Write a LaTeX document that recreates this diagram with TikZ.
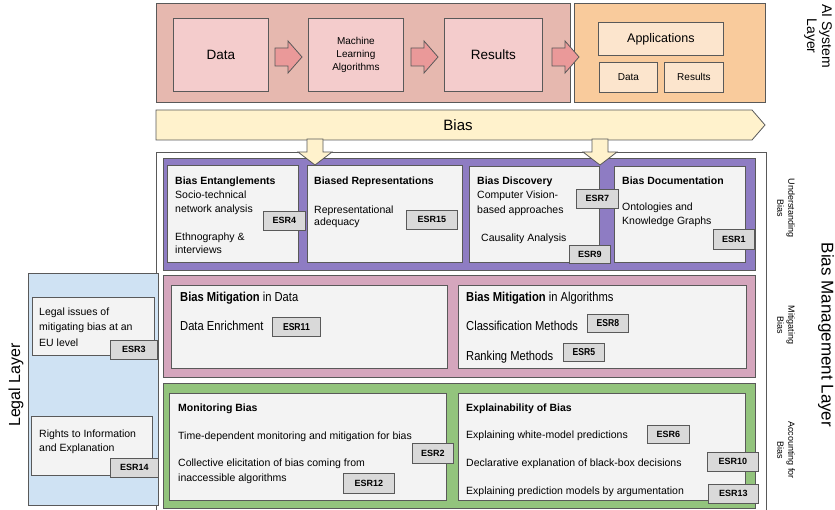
\documentclass[tikz,border=0pt]{standalone}
\usepackage{fontspec}
\setmainfont{Liberation Sans}
\newfontfamily\narrowfont[FakeStretch=0.86]{Liberation Sans}
\definecolor{linegray}{HTML}{595959}
\definecolor{aipink}{HTML}{E6B8AF}
\definecolor{aiinner}{HTML}{F4CCCC}
\definecolor{aiarrow}{HTML}{EA9999}
\definecolor{apporange}{HTML}{F9CB9C}
\definecolor{appinner}{HTML}{FCE5CD}
\definecolor{biasyellow}{HTML}{FFF2CC}
\definecolor{understand}{HTML}{8E7CC3}
\definecolor{mitigate}{HTML}{D5A6BD}
\definecolor{account}{HTML}{93C47D}
\definecolor{legalblue}{HTML}{CFE2F3}
\definecolor{cardfill}{HTML}{F3F3F3}
\definecolor{tagfill}{HTML}{D9D9D9}
\tikzset{
  wh/.style 2 args={minimum width=#1pt, minimum height=#2pt},
  panel/.style={draw=linegray, line width=0.8pt, inner sep=0pt, anchor=north west},
  card/.style={panel, fill=cardfill},
  tag/.style={panel, fill=tagfill, font=\fontsize{9}{10}\selectfont\bfseries},
  ntag/.style={tag, font=\fontsize{10}{11}\selectfont\narrowfont\bfseries},
  txt/.style={anchor=base west, inner sep=0pt, font=\fontsize{10.5}{12}\selectfont},
  ntxt/.style={anchor=base west, inner sep=0pt, font=\fontsize{13}{14}\selectfont\narrowfont},
  sidelbl/.style={rotate=-90, align=center, inner sep=0pt, font=\fontsize{9}{11}\selectfont},
  layerlbl/.style={align=center, inner sep=0pt, font=\fontsize{15}{16}\selectfont},
  blockarrow/.style={draw=linegray, line width=0.8pt, fill=aiarrow},
  downarrow/.style={draw=linegray, line width=0.8pt, fill=biasyellow},
}
\begin{document}
\begin{tikzpicture}[x=1pt, y=-1pt]
\clip (0,0) rectangle (835,510);

% ---------- AI system layer ----------
\node[panel, fill=aipink, wh={414}{99}] (ai) at (156,3) {};
\node[panel, fill=aiinner, wh={95}{73}, font=\fontsize{13.5}{15}\selectfont] (data) at (173,18) {Data};
\node[panel, fill=aiinner, wh={95}{73}, align=center, font=\fontsize{10}{13}\selectfont] (ml) at (308,18) {Machine\\Learning\\Algorithms};
\node[panel, fill=aiinner, wh={98}{73}, font=\fontsize{13.5}{15}\selectfont] (results) at (444,18) {Results};
\node[panel, fill=apporange, wh={191}{99}] (apps) at (574,3) {};
\node[panel, fill=appinner, wh={125}{33}, font=\fontsize{12.5}{14}\selectfont] (appl) at (598,22) {Applications};
\node[panel, fill=appinner, wh={58}{30}, font=\fontsize{10}{12}\selectfont] (appdata) at (599,62) {Data};
\node[panel, fill=appinner, wh={59}{30}, font=\fontsize{10}{12}\selectfont] (appres) at (664,62) {Results};

% block arrows of the pipeline
\foreach \x in {275,411,552} {
  \draw[blockarrow] (\x,48) -- (\x+13,48) -- (\x+13,41) -- (\x+27,57) -- (\x+13,73) -- (\x+13,66) -- (\x,66) -- cycle;
}

\node[layerlbl, rotate=-90, font=\fontsize{14}{15}\selectfont] (ailbl) at (818,36) {AI System\\Layer};

% ---------- bias band ----------
\draw[draw=linegray, line width=0.8pt, fill=biasyellow] (156,110) -- (752,110) -- (765,125) -- (752,140) -- (156,140) -- cycle;
\node[inner sep=0pt, font=\fontsize{15}{16}\selectfont] (bias) at (458,125) {Bias};

% ---------- bias management layer ----------
\node[panel, fill=white, wh={610}{370}] (bm) at (156,152) {};

% understanding bias
\node[panel, fill=understand, wh={592}{112}] (und) at (163,158) {};
\node[card, wh={131}{97}] (ent) at (167,165) {};
\node[card, wh={155}{97}] (rep) at (307,165) {};
\node[card, wh={130}{96}] (disc) at (469,166) {};
\node[card, wh={131}{96}] (doc) at (614,166) {};

\node[txt] at (175,185) {\bfseries Bias Entanglements};
\node[txt] at (175,199) {Socio-technical};
\node[txt] at (175,213) {network analysis};
\node[txt] at (175,241) {Ethnography \&};
\node[txt] at (175,254) {interviews};
\node[txt] at (314,185) {\bfseries Biased Representations};
\node[txt] at (314,214) {Representational};
\node[txt] at (314,226) {adequacy};
\node[txt] at (477,185) {\bfseries Bias Discovery};
\node[txt] at (477,199) {Computer Vision-};
\node[txt] at (477,214) {based approaches};
\node[txt] at (481,242) {Causality Analysis};
\node[txt] at (622,185) {\bfseries Bias Documentation};
\node[txt] at (622,211) {Ontologies and};
\node[txt] at (622,225) {Knowledge Graphs};

\node[tag, wh={42}{19}] (esr4) at (263,211) {ESR4};
\node[tag, wh={51}{19}] (esr15) at (406,210) {ESR15};
\node[tag, wh={42}{19}] (esr7) at (576,189) {ESR7};
\node[tag, wh={41}{18}] (esr9) at (569,245) {ESR9};
\node[tag, wh={41}{20}] (esr1) at (713,229) {ESR1};

% mitigating bias
\node[panel, fill=mitigate, wh={592}{102}] (mit) at (163,275) {};
\node[card, wh={276}{83}] (mdata) at (171,285) {};
\node[card, wh={288}{83}] (malg) at (458,285) {};
\node[ntxt] at (180,302) {\bfseries Bias Mitigation\mdseries{} in Data};
\node[ntxt] at (180,331) {Data Enrichment};
\node[ntxt] at (466,302) {\bfseries Bias Mitigation\mdseries{} in Algorithms};
\node[ntxt] at (466,331) {Classification Methods};
\node[ntxt] at (466,360) {Ranking Methods};
\node[ntag, wh={48}{19}] (esr11) at (272,317) {ESR11};
\node[ntag, wh={41}{18}] (esr8) at (587,314) {ESR8};
\node[ntag, wh={41}{18}] (esr5) at (563,343) {ESR5};

% accounting for bias
\node[panel, fill=account, wh={592}{125}] (acc) at (163,383) {};
\node[card, wh={277}{107}] (mon) at (169,393) {};
\node[card, wh={287}{107}] (expl) at (458,393) {};
\node[txt] at (178,411) {\bfseries Monitoring Bias};
\node[txt] at (178,439) {Time-dependent monitoring and mitigation for bias};
\node[txt] at (178,466) {Collective elicitation of bias coming from};
\node[txt] at (178,481) {inaccessible algorithms};
\node[txt] at (466,411) {\bfseries Explainability of Bias};
\node[txt] at (466,438) {Explaining white-model predictions};
\node[txt] at (466,466) {Declarative explanation of black-box decisions};
\node[txt] at (466,494) {Explaining prediction models by argumentation};
\node[tag, wh={41}{20}] (esr2) at (412,443) {ESR2};
\node[tag, wh={51}{20}] (esr12) at (343,473) {ESR12};
\node[tag, wh={42}{18}] (esr6) at (647,425) {ESR6};
\node[tag, wh={51}{19}] (esr10) at (707,452) {ESR10};
\node[tag, wh={50}{19}] (esr13) at (708,484) {ESR13};

% side labels of the management layer
\node[sidelbl] (undlbl) at (786,208) {Understanding\\Bias};
\node[sidelbl] (mitlbl) at (786,325) {Mitigating\\Bias};
\node[sidelbl] (acclbl) at (786,450) {Accounting for\\Bias};
\node[layerlbl, rotate=-90, font=\fontsize{17}{18}\selectfont] (bmlbl) at (826,335) {Bias Management Layer};

% ---------- legal layer ----------
\node[panel, fill=legalblue, wh={130}{232}] (legal) at (28,273) {};
\node[card, wh={122}{58}] (leu) at (32,297) {};
\node[card, wh={121}{59}] (lrights) at (31,416) {};
\node[txt] at (39,316) {Legal issues of};
\node[txt] at (39,331) {mitigating bias at an};
\node[txt] at (39,347) {EU level};
\node[txt] at (39,437) {Rights to Information};
\node[txt] at (39,451) {and Explanation};
\node[tag, wh={47}{19}] (esr3) at (110,340) {ESR3};
\node[tag, wh={48}{19}] (esr14) at (110,458) {ESR14};
\node[layerlbl, rotate=90, font=\fontsize{16}{17}\selectfont] (legallbl) at (16,385) {Legal Layer};

% ---------- bias flowing down into the management layer ----------
\foreach \c in {315,600} {
  \draw[downarrow] (\c-8,139) -- (\c+8,139) -- (\c+8,152) -- (\c+17,152) -- (\c,165) -- (\c-17,152) -- (\c-8,152) -- cycle;
}
\end{tikzpicture}
\end{document}
